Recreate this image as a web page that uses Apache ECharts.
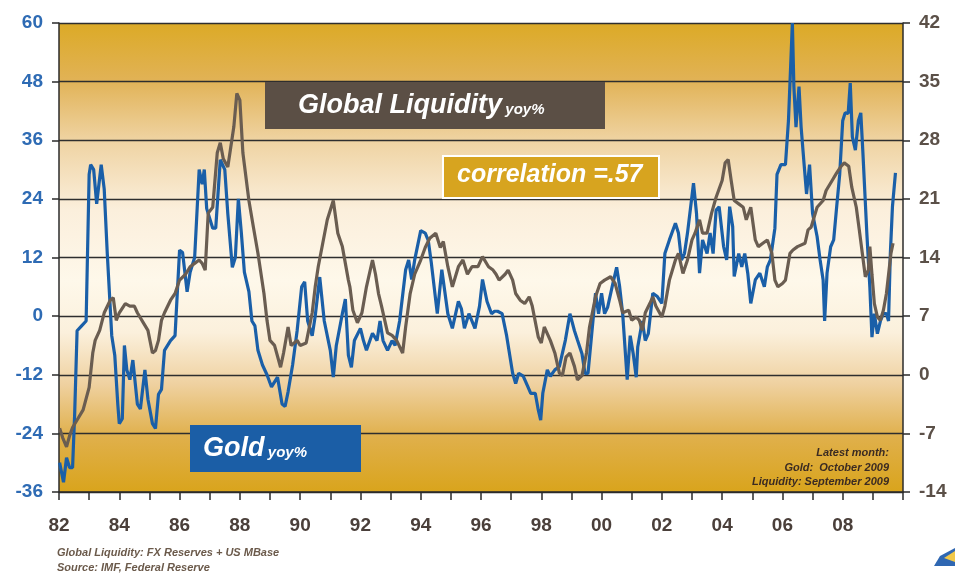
<!DOCTYPE html>
<html><head><meta charset="utf-8">
<script src="https://cdn.jsdelivr.net/npm/echarts@6/dist/echarts.min.js"></script>
<style>html,body{margin:0;padding:0;background:#fff}#c{width:955px;height:576px}</style>
</head><body><div id="c"></div>
<script>
// Gold yoy% (left axis) — [decimal year, value]
const goldYears = [1982.02,1982.15,1982.25,1982.35,1982.45,1982.52,1982.6,1982.75,1982.9,1983.0,1983.05,1983.15,1983.25,1983.4,1983.5,1983.6,1983.75,1983.85,1983.95,1984.0,1984.1,1984.17,1984.25,1984.35,1984.45,1984.6,1984.7,1984.85,1984.95,1985.1,1985.2,1985.3,1985.4,1985.5,1985.7,1985.85,1986.0,1986.1,1986.25,1986.35,1986.5,1986.65,1986.75,1986.82,1986.9,1987.1,1987.2,1987.35,1987.5,1987.6,1987.75,1987.85,1987.95,1988.05,1988.15,1988.3,1988.4,1988.5,1988.6,1988.75,1988.9,1989.05,1989.25,1989.4,1989.5,1989.6,1989.75,1989.9,1990.05,1990.15,1990.25,1990.4,1990.5,1990.65,1990.8,1991.0,1991.1,1991.2,1991.4,1991.5,1991.6,1991.7,1991.8,1992.0,1992.1,1992.2,1992.4,1992.55,1992.65,1992.75,1992.9,1993.05,1993.15,1993.3,1993.5,1993.6,1993.7,1993.8,1994.0,1994.15,1994.25,1994.35,1994.55,1994.7,1994.8,1994.9,1995.05,1995.25,1995.35,1995.45,1995.6,1995.8,1995.95,1996.05,1996.2,1996.35,1996.45,1996.55,1996.7,1996.85,1997.05,1997.15,1997.25,1997.4,1997.55,1997.65,1997.8,1997.9,1997.98,1998.05,1998.2,1998.3,1998.45,1998.6,1998.8,1998.95,1999.1,1999.2,1999.35,1999.45,1999.55,1999.7,1999.8,1999.9,2000.0,2000.1,2000.2,2000.35,2000.5,2000.6,2000.7,2000.85,2000.95,2001.05,2001.15,2001.2,2001.35,2001.45,2001.55,2001.7,2001.85,2002.0,2002.1,2002.25,2002.45,2002.55,2002.65,2002.75,2002.85,2003.05,2003.15,2003.25,2003.35,2003.5,2003.6,2003.7,2003.8,2003.9,2004.05,2004.15,2004.25,2004.35,2004.4,2004.55,2004.65,2004.75,2004.85,2004.95,2005.1,2005.25,2005.4,2005.5,2005.6,2005.75,2005.82,2005.95,2006.1,2006.2,2006.33,2006.38,2006.45,2006.55,2006.62,2006.72,2006.8,2006.9,2007.0,2007.15,2007.25,2007.35,2007.4,2007.48,2007.6,2007.7,2007.8,2007.9,2008.0,2008.08,2008.18,2008.25,2008.32,2008.42,2008.52,2008.6,2008.67,2008.8,2008.9,2008.97,2009.05,2009.15,2009.25,2009.35,2009.45,2009.52,2009.58,2009.65,2009.75];
const goldValues = [-30,-34,-29,-31,-31,-20,-3,-2,-1,29,31,30,23,31,26,13,-4,-8,-18,-22,-21,-6,-11,-13,-9,-18,-19,-11,-17,-22,-23,-16,-15,-7,-5,-4,13.5,13,5,9,12,30,27,30,22,18,18,32,30,21,10,12,24,17,9,5,-1,-2,-7,-10,-12,-14.5,-12.5,-18,-18.5,-15.5,-10,-3,6,7,-1,-4,0,8,-1,-7,-12.5,-6,0.5,3.5,-8,-10.5,-5,-2.5,-5,-7,-3.5,-5,-1,-5,-7,-5,-6,-1,9.5,11.5,7.5,11.5,17.5,17,15.5,11,0.5,9.5,5,0.5,-2.5,3,1.5,-2.5,0.5,-2.5,2,7.5,3,0.5,1,1,0.5,-4,-11.7,-13.8,-11.7,-12.3,-14.4,-15.8,-15.8,-19.2,-21.3,-15.8,-11,-12.3,-11,-10.3,-4.9,0.5,-3,-4.9,-7.7,-11.7,-11.7,-1.9,4.7,0.5,4.7,0.5,1.8,6,10,6,0.5,-13,-4,-7.7,-12.5,-6.3,-1,-5,-3.6,4.7,4,2.6,12.8,15.6,19,17,11.5,12.8,17,27.2,21,8.8,15.6,12.8,17,12.8,21.7,22.4,14.2,11.5,22.4,18.3,8.1,12.8,10.1,12.8,8.8,2.6,7.4,8.8,6,10.1,11.5,18,29,31,31,40,60,47,38.7,47,38.7,31,25,31,21,16.3,11.5,7.4,-1,8.8,14.2,15.6,22.4,29,40,41.6,41.5,47.7,36.7,34,40,41.6,33.4,17,6,-4.3,0.5,-3.6,-1,0.5,0.5,-1,12.8,22.4,29.3];

// Global Liquidity yoy% (right axis) — [decimal year, value]
const liqYears = [1982.02,1982.12,1982.25,1982.35,1982.45,1982.6,1982.8,1983.0,1983.12,1983.2,1983.35,1983.5,1983.7,1983.8,1983.9,1984.0,1984.2,1984.35,1984.5,1984.6,1984.8,1984.95,1985.1,1985.2,1985.3,1985.4,1985.5,1985.7,1985.85,1986.0,1986.2,1986.35,1986.5,1986.65,1986.75,1986.85,1986.95,1987.1,1987.25,1987.35,1987.45,1987.6,1987.8,1987.9,1988.0,1988.1,1988.3,1988.45,1988.6,1988.8,1988.9,1989.0,1989.15,1989.35,1989.45,1989.6,1989.7,1989.9,1990.0,1990.2,1990.4,1990.5,1990.6,1990.75,1990.9,1991.1,1991.25,1991.4,1991.6,1991.65,1991.75,1991.9,1992.05,1992.2,1992.4,1992.5,1992.6,1992.7,1992.9,1993.05,1993.2,1993.4,1993.5,1993.65,1993.8,1994.0,1994.15,1994.3,1994.5,1994.65,1994.75,1994.9,1995.05,1995.25,1995.4,1995.55,1995.7,1995.9,1996.05,1996.25,1996.4,1996.5,1996.6,1996.8,1996.9,1997.05,1997.15,1997.3,1997.45,1997.6,1997.7,1997.9,1998.0,1998.1,1998.3,1998.45,1998.6,1998.7,1998.82,1998.95,1999.1,1999.2,1999.35,1999.5,1999.6,1999.8,1999.95,2000.1,2000.3,2000.45,2000.6,2000.7,2000.9,2001.0,2001.15,2001.25,2001.35,2001.45,2001.6,2001.7,2001.8,2002.0,2002.1,2002.25,2002.45,2002.55,2002.7,2002.85,2003.0,2003.1,2003.25,2003.35,2003.5,2003.65,2003.8,2004.0,2004.1,2004.2,2004.3,2004.4,2004.55,2004.7,2004.8,2004.95,2005.1,2005.2,2005.35,2005.5,2005.65,2005.75,2005.85,2006.0,2006.1,2006.25,2006.35,2006.5,2006.75,2006.85,2006.95,2007.05,2007.15,2007.35,2007.45,2007.65,2007.8,2007.95,2008.05,2008.2,2008.3,2008.45,2008.55,2008.65,2008.75,2008.85,2008.9,2008.97,2009.05,2009.15,2009.25,2009.35,2009.45,2009.6,2009.67];
const liqValues = [-6.4,-7.5,-8.6,-7.3,-6.3,-5.4,-4.2,-1.5,2.6,4.1,5.3,7.4,8.9,9.2,6.5,7.4,8.5,8.2,8.2,7.4,6.2,5.3,2.6,2.9,4.1,6.5,7.4,8.9,9.7,11.3,12.0,12.9,13.3,13.7,13.3,12.5,19.3,20.0,26.5,27.7,25.8,24.8,29.6,33.6,32.8,26.5,20.8,17.6,14.5,9.7,6.5,4.1,3.5,0.9,2.6,5.7,3.5,4.1,3.5,3.8,7.4,10.5,12.9,15.7,18.5,20.8,16.9,15.3,11.3,10.5,7.7,6.2,7.4,10.5,13.7,12,9.7,8.2,5.0,4.7,4.1,2.6,5.7,9.7,12.0,13.7,15.2,16.3,16.9,15.2,15.9,12.9,10.5,12.9,13.7,12.0,12.9,12.9,14.1,12.9,12.5,12.0,11.3,12.0,12.5,11.3,9.7,8.9,8.5,9.3,8.2,4.5,3.8,5.7,4.1,2.6,0.2,-0.1,2.1,2.6,1.0,-0.6,-0.1,2.6,5.7,9.3,10.9,11.3,11.7,10.9,8.9,7.4,7.7,6.5,6.9,6.5,5.3,7.4,8.5,9.3,8.2,6.9,8.2,11.3,13.7,14.5,12.1,13.7,16.1,16.9,18.5,16.9,16.9,19.3,21.2,23.2,25.3,25.7,23.2,20.8,20.4,20.0,18.5,20,16.1,15.3,15.7,16.1,14.5,11.3,10.5,10.9,11.3,14.5,14.9,15.3,15.7,17.3,17.6,18.8,20.0,20.8,22.0,23.2,24.1,24.9,25.3,24.9,22.4,20,17.3,14.5,11.7,12.5,15.3,12,8.5,6.9,6.5,7.7,9.7,14.5,15.7];

const leftTicks = {min: -36, max: 60, step: 12};
const rightTicks = {min: -14, max: 42, step: 7};
const yearRange = {min: 1982, max: 2010};

const goldData = goldYears.map((y, i) => [y, goldValues[i]]);
const liqData = liqYears.map((y, i) => [y, liqValues[i]]);

const chart = echarts.init(document.getElementById('c'));
const FONT = '"Liberation Sans", Arial, sans-serif';
const axisDark = '#2b2b2b';

chart.setOption({
  animation: false,
  backgroundColor: '#ffffff',
  grid: {
    left: 59, right: 52, top: 23, bottom: 84, show: true, borderWidth: 0,
    backgroundColor: {
      type: 'linear', x: 0, y: 0, x2: 0, y2: 1,
      colorStops: [
        {offset: 0, color: '#dcaa26'},
        {offset: 0.12, color: '#e1b255'},
        {offset: 0.25, color: '#efd3a2'},
        {offset: 0.4, color: '#fbefdc'},
        {offset: 0.55, color: '#fef8ea'},
        {offset: 0.66, color: '#fbf0dc'},
        {offset: 0.77, color: '#efd1a0'},
        {offset: 0.88, color: '#e0b04c'},
        {offset: 1, color: '#d9a41c'}
      ]
    }
  },
  xAxis: {
    type: 'value', min: yearRange.min, max: yearRange.max, interval: 1,
    axisLine: {show: true, onZero: false, lineStyle: {color: axisDark, width: 1.5}},
    axisTick: {show: true, length: 8, lineStyle: {color: axisDark, width: 1.5}},
    splitLine: {show: false},
    axisLabel: {
      margin: 24, color: '#4a3f3a', fontFamily: FONT, fontWeight: 'bold', fontSize: 19,
      formatter: v => (v % 2 === 0 && v < 2010) ? String(v).slice(2) : ''
    }
  },
  yAxis: [{
    type: 'value', min: leftTicks.min, max: leftTicks.max, interval: leftTicks.step,
    axisLine: {show: true, lineStyle: {color: axisDark, width: 1.5}},
    axisTick: {show: true, length: 7, lineStyle: {color: axisDark, width: 1.5}},
    splitLine: {show: true, lineStyle: {color: '#2e2e2e', width: 1.3}},
    axisLabel: {margin: 16, color: '#2e6bb4', fontFamily: FONT, fontWeight: 'bold', fontSize: 19}
  }, {
    type: 'value', min: rightTicks.min, max: rightTicks.max, interval: rightTicks.step,
    axisLine: {show: true, lineStyle: {color: axisDark, width: 1.5}},
    axisTick: {show: true, length: 7, lineStyle: {color: axisDark, width: 1.5}},
    splitLine: {show: false},
    axisLabel: {margin: 16, color: '#5b5048', fontFamily: FONT, fontWeight: 'bold', fontSize: 19}
  }],
  series: [{
    name: 'Gold yoy%', type: 'line', yAxisIndex: 0, data: goldData,
    showSymbol: false, lineStyle: {color: '#1a5fa8', width: 3.2}, z: 3
  }, {
    name: 'Global Liquidity yoy%', type: 'line', yAxisIndex: 1, data: liqData,
    showSymbol: false, lineStyle: {color: '#6a5d51', width: 3.2}, z: 4
  }],
  graphic: [
    {type: 'rect', left: 265, top: 82, shape: {width: 340, height: 47}, style: {fill: '#5b4f45'}, z: 10},
    {type: 'text', left: 298, top: 92, z: 11, style: {
      text: '{a|Global Liquidity} {b|yoy%}',
      rich: {
        a: {fontFamily: FONT, fontSize: 27, fontWeight: 'bold', fontStyle: 'italic', fill: '#ffffff'},
        b: {fontFamily: FONT, fontSize: 15, fontWeight: 'bold', fontStyle: 'italic', fill: '#ffffff', padding: [8, 0, 0, 0]}
      }
    }},
    {type: 'rect', left: 442, top: 155, shape: {width: 216, height: 42}, style: {fill: '#d7a41f', stroke: '#ffffff', lineWidth: 2}, z: 10},
    {type: 'text', left: 457, top: 163, z: 11, style: {
      text: 'correlation =.57', fontFamily: FONT, fontSize: 25, fontWeight: 'bold', fontStyle: 'italic', fill: '#ffffff'
    }},
    {type: 'rect', left: 190, top: 425, shape: {width: 171, height: 47}, style: {fill: '#1b5ea6'}, z: 10},
    {type: 'text', left: 203, top: 435, z: 11, style: {
      text: '{a|Gold} {b|yoy%}',
      rich: {
        a: {fontFamily: FONT, fontSize: 27, fontWeight: 'bold', fontStyle: 'italic', fill: '#ffffff'},
        b: {fontFamily: FONT, fontSize: 15, fontWeight: 'bold', fontStyle: 'italic', fill: '#ffffff', padding: [8, 0, 0, 0]}
      }
    }},
    {type: 'text', x: 889, y: 446, z: 11, style: {
      text: 'Latest month:\nGold:  October 2009\nLiquidity: September 2009',
      align: 'right', verticalAlign: 'top', lineHeight: 14.5,
      fontFamily: FONT, fontSize: 11, fontWeight: 'bold', fontStyle: 'italic', fill: '#3b2b22'
    }},
    {type: 'text', left: 57, top: 546, z: 11, style: {
      text: 'Global Liquidity: FX Reserves + US MBase\nSource: IMF, Federal Reserve',
      lineHeight: 14.5,
      fontFamily: FONT, fontSize: 11, fontWeight: 'bold', fontStyle: 'italic', fill: '#6b5a4b'
    }},
    {type: 'polygon', z: 11, shape: {points: [[940, 556], [955, 548], [955, 566], [934, 566]]}, style: {fill: '#2f67b2'}},
    {type: 'polygon', z: 12, shape: {points: [[944, 558], [955, 551], [955, 562]]}, style: {fill: '#f1c84a'}}
  ]
});
</script>
</body></html>
